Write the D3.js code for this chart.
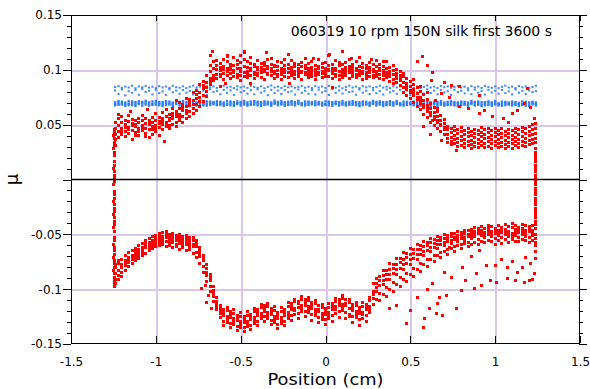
<!DOCTYPE html>
<html><head><meta charset="utf-8">
<script src="https://cdn.jsdelivr.net/npm/d3@7"></script>
<style>body{margin:0;background:#fff}svg{display:block}</style>
</head><body><svg id="c" width="590" height="389"></svg>
<script>
const titleText = "060319 10 rpm 150N silk first 3600 s";
const xLabelText = "Position (cm)";
const yLabelText = "μ";
const xTicks = [-1.5,-1,-0.5,0,0.5,1,1.5];
const xTickLabels = ["-1.5","-1","-0.5","0","0.5","1","1.5"];
const yTicks = [-0.15,-0.1,-0.05,0,0.05,0.1,0.15];
const yTickLabels = ["-0.15","-0.1","-0.05","","0.05","0.1","0.15"];

// Red series: forward stroke (positive friction), columns [x, mu values...]
const upperBranch = [
[-1.24,.0312,.0408,.0465,.0521,.0367],[-1.22,.0434,.0489,.0552,.0381,.0597],[-1.20,.0463,.0518,.0414,.0571,.0442],
[-1.18,.0441,.0497,.0539,.0392,.0476],[-1.16,.0472,.0527,.0423,.0581,.0455],[-1.14,.0451,.0508,.0364,.0548,.0489],
[-1.12,.0483,.0431,.0534,.0497,.0402],[-1.10,.0462,.0516,.0398,.0559,.0441],[-1.08,.0491,.0443,.0537,.0587,.0468],
[-1.06,.0468,.0513,.0421,.0552,.0394],[-1.04,.0497,.0452,.0541,.0383,.0518],[-1.02,.0459,.0521,.0568,.0412,.0487],
[-1.00,.0492,.0538,.0437,.0603,.0465],[-0.98,.0509,.0471,.0561,.0402,.0533],[-0.96,.0498,.0552,.0458,.0612,.0526],
[-0.94,.0521,.0479,.0573,.0638,.0497],[-0.92,.0537,.0496,.0589,.0469,.0554],[-0.90,.0552,.0603,.0501,.0648,.0577],
[-0.88,.0571,.0524,.0619,.0482,.0597],[-0.86,.0589,.0541,.0647,.0698,.0562],[-0.84,.0626,.0571,.0683,.0524,.0652],
[-0.82,.0604,.0668,.0559,.0737,.0631],[-0.80,.0672,.0617,.0728,.0574,.0701],[-0.78,.0648,.0719,.0603,.0792,.0681],
[-0.76,.0743,.0681,.0812,.0626,.0774],[-0.74,.0714,.0792,.0667,.0868,.0752],[-0.72,.0829,.0763,.0897,.0711,.0861],
[-0.70,.0801,.0883,.0842,.0947,.0758],[-0.68,.0921,.0867,.0981,.1036,.0896],[-0.66,.0951,.0907,.1012,.1076,.0928],
[-0.64,.0962,.1041,.0918,.1003,.1087],[-0.62,.0994,.0935,.1062,.1019,.0957],[-0.60,.1028,.0971,.0912,.1095,.0999],
[-0.58,.0946,.1013,.1074,.0987,.1132],[-0.56,.1006,.0923,.1051,.0968,.1024],[-0.54,.0979,.1037,.0941,.1109,.0996],
[-0.52,.1015,.0958,.1083,.0929,.1047],[-0.50,.0988,.1066,.0951,.1012,.0907],[-0.48,.1034,.0973,.1098,.0939,.1161],
[-0.46,.0959,.1021,.0984,.1073,.0927],[-0.44,.1009,.0944,.1058,.0991,.1115],[-0.42,.0976,.1046,.0919,.1027,.0962],
[-0.40,.1022,.0965,.1089,.0948,.1004],[-0.38,.0993,.1059,.0932,.1017,.0975],[-0.36,.1041,.0981,.0916,.1068,.1002],
[-0.34,.0967,.1029,.1093,.0954,.1011],[-0.32,.1013,.0948,.1052,.0986,.1104],[-0.30,.0985,.1044,.0925,.1031,.0969],
[-0.28,.1027,.0961,.1079,.0937,.0998],[-0.26,.0954,.1008,.1064,.0982,.0913],[-0.24,.1003,.0942,.1036,.1097,.0972],
[-0.22,.0978,.1051,.0929,.1014,.1138],[-0.20,.1019,.0963,.1085,.0946,.0995],[-0.18,.0961,.1032,.0987,.1062,.0921],
[-0.16,.0997,.0939,.1048,.1009,.0968],[-0.14,.0972,.1026,.0911,.1071,.0985],[-0.12,.1012,.0953,.1039,.0976,.1099],
[-0.10,.0983,.1057,.0934,.1008,.0961],[-0.08,.0965,.1018,.1076,.0942,.0994],[-0.06,.1004,.0948,.1043,.0979,.0916],
[-0.04,.0977,.1033,.0956,.1091,.1012],[-0.02,.1021,.0967,.0926,.1054,.0989],[0.00,.0958,.1011,.1068,.0936,.0983],
[0.02,.0996,.0943,.1037,.1005,.1127],[0.04,.0971,.1049,.0921,.0988,.1016],[0.06,.1014,.0959,.1082,.0937,.0995],
[0.08,.0981,.1036,.0947,.1063,.0912],[0.10,.0962,.1007,.0985,.1045,.0931],[0.12,.1001,.0952,.1069,.0976,.1023],
[0.14,.0974,.1029,.0918,.1002,.1094],[0.16,.1018,.0964,.1047,.0939,.0991],[0.18,.0957,.0998,.1072,.0927,.1015],
[0.20,.0993,.0945,.1034,.0979,.1108],[0.22,.0969,.1024,.0913,.1057,.0986],[0.24,.1008,.0951,.1041,.0972,.0924],
[0.26,.0979,.1019,.0938,.1066,.0995],[0.28,.0952,.1004,.1053,.0926,.0981],[0.30,.0986,.0937,.1027,.0964,.1089],
[0.32,.0961,.1012,.0919,.0993,.1046],[0.34,.0947,.0991,.1034,.0908,.0972],[0.36,.0973,.0926,.1015,.0951,.1078],
[0.38,.0935,.0982,.0897,.1023,.0958],[0.40,.0956,.0909,.0998,.0871,.1041],[0.42,.0918,.0964,.0883,.1007,.0942],
[0.44,.0902,.0947,.0861,.0989,.0925],[0.46,.0889,.0842,.0936,.0797,.0971],[0.48,.0824,.0873,.0918,.0768,.0851],
[0.50,.0846,.0791,.0892,.0739,.0812],[0.52,.0763,.0821,.0868,.0704,.0789],[0.54,.0781,.0726,.0837,.0668,.0752],
[0.56,.0694,.0752,.0803,.0637,.0718],[0.58,.0716,.0658,.0772,.0593,.0683],[0.60,.0621,.0679,.0731,.0562,.0648],
[0.62,.0644,.0587,.0692,.0524,.0611],[0.64,.0551,.0607,.0654,.0496,.0572],[0.66,.0573,.0519,.0618,.0462,.0538],
[0.68,.0489,.0541,.0583,.0437,.0506],[0.70,.0511,.0458,.0547,.0412,.0476],[0.72,.0412,.0371,.0453,.0338,.0487],
[0.74,.0385,.0427,.0349,.0468,.0316],[0.76,.0402,.0361,.0443,.0327,.0479],[0.78,.0374,.0418,.0336,.0456,.0298],
[0.80,.0396,.0352,.0437,.0313,.0471],[0.82,.0367,.0409,.0328,.0448,.0295],[0.84,.0388,.0346,.0429,.0307,.0466],
[0.86,.0359,.0401,.0322,.0442,.0284],[0.88,.0381,.0338,.0423,.0301,.0459],[0.90,.0364,.0407,.0326,.0447,.0289],
[0.92,.0392,.0349,.0433,.0311,.0474],[0.94,.0371,.0414,.0332,.0453,.0296],[0.96,.0385,.0343,.0426,.0305,.0462],
[0.98,.0362,.0404,.0324,.0445,.0287],[1.00,.0389,.0347,.0431,.0309,.0468],[1.02,.0368,.0411,.0329,.0451,.0292],
[1.04,.0383,.0341,.0424,.0303,.0463],[1.06,.0357,.0399,.0318,.0439,.0281],[1.08,.0379,.0336,.0421,.0298,.0457],
[1.10,.0363,.0405,.0325,.0446,.0286],[1.12,.0386,.0344,.0428,.0306,.0467],[1.14,.0369,.0412,.0331,.0452,.0293],
[1.16,.0391,.0348,.0434,.0312,.0473],[1.18,.0377,.0421,.0339,.0462,.0302],[1.20,.0398,.0355,.0441,.0319,.0486],
[1.22,.0409,.0366,.0452,.0327,.0498],[1.24,.0421,.0374,.0468,.0335,.0512]
];

// Red series: return stroke (negative friction), columns [x, mu values...]
const lowerBranch = [
[1.24,-.0443,-.0497,-.0538,-.0406,-.0571],[1.22,-.0462,-.0514,-.0421,-.0558,-.0489],[1.20,-.0431,-.0478,-.0529,-.0573,-.0452],
[1.18,-.0469,-.0418,-.0521,-.0556,-.0493],[1.16,-.0447,-.0502,-.0413,-.0549,-.0476],[1.14,-.0481,-.0434,-.0527,-.0568,-.0459],
[1.12,-.0458,-.0511,-.0424,-.0561,-.0487],[1.10,-.0439,-.0492,-.0543,-.0405,-.0518],[1.08,-.0473,-.0521,-.0431,-.0574,-.0496],
[1.06,-.0452,-.0498,-.0551,-.0414,-.0479],[1.04,-.0484,-.0436,-.0532,-.0581,-.0461],[1.02,-.0461,-.0513,-.0422,-.0559,-.0488],
[1.00,-.0492,-.0447,-.0541,-.0589,-.0468],[0.98,-.0471,-.0524,-.0433,-.0567,-.0499],[0.96,-.0449,-.0503,-.0554,-.0417,-.0478],
[0.94,-.0482,-.0531,-.0443,-.0579,-.0506],[0.92,-.0463,-.0512,-.0428,-.0561,-.0487],[0.90,-.0494,-.0446,-.0543,-.0592,-.0471],
[0.88,-.0474,-.0522,-.0435,-.0576,-.0498],[0.86,-.0487,-.0541,-.0512,-.0593,-.0458],[0.84,-.0521,-.0468,-.0574,-.0499,-.0612],
[0.82,-.0496,-.0553,-.0527,-.0461,-.0588],[0.80,-.0538,-.0482,-.0597,-.0511,-.0632],[0.78,-.0509,-.0566,-.0541,-.0478,-.0604],
[0.76,-.0551,-.0493,-.0614,-.0527,-.0658],[0.74,-.0521,-.0587,-.0553,-.0489,-.0629],[0.72,-.0569,-.0508,-.0636,-.0542,-.0681],
[0.70,-.0538,-.0603,-.0572,-.0501,-.0657],[0.68,-.0591,-.0527,-.0662,-.0558,-.0714],[0.66,-.0556,-.0628,-.0594,-.0519,-.0689],
[0.64,-.0617,-.0548,-.0693,-.0581,-.0752],[0.62,-.0579,-.0658,-.0621,-.0537,-.0731],[0.60,-.0648,-.0572,-.0729,-.0606,-.0794],
[0.58,-.0607,-.0693,-.0652,-.0563,-.0776],[0.56,-.0683,-.0601,-.0768,-.0637,-.0839],[0.54,-.0641,-.0731,-.0688,-.0592,-.0821],
[0.52,-.0722,-.0636,-.0809,-.0673,-.0884],[0.50,-.0681,-.0772,-.0729,-.0627,-.0867],[0.48,-.0764,-.0676,-.0853,-.0712,-.0931],
[0.46,-.0726,-.0817,-.0772,-.0668,-.0913],[0.44,-.0809,-.0721,-.0898,-.0756,-.0978],[0.42,-.0773,-.0864,-.0819,-.0716,-.0962],
[0.40,-.0857,-.0771,-.0943,-.0808,-.1021],[0.38,-.0823,-.0912,-.0868,-.0769,-.1007],[0.36,-.0908,-.0826,-.0989,-.0862,-.1063],
[0.34,-.0879,-.0962,-.0921,-.0831,-.1049],[0.32,-.0963,-.0889,-.1038,-.0921,-.1102],[0.30,-.0948,-.1024,-.0986,-.1091,-.0903],
[0.28,-.1018,-.0952,-.1089,-.1047,-.1143],[0.26,-.1156,-.1104,-.1209,-.1079,-.1181],[0.24,-.1187,-.1136,-.1241,-.1298,-.1162],
[0.22,-.1209,-.1158,-.1267,-.1124,-.1235],[0.20,-.1218,-.1167,-.1276,-.1329,-.1193],[0.18,-.1203,-.1149,-.1258,-.1121,-.1231],
[0.16,-.1191,-.1138,-.1247,-.1307,-.1164],[0.14,-.1172,-.1119,-.1228,-.1093,-.1251],[0.12,-.1153,-.1098,-.1209,-.1268,-.1127],
[0.10,-.1139,-.1084,-.1196,-.1059,-.1168],[0.08,-.1148,-.1096,-.1207,-.1261,-.1121],[0.06,-.1162,-.1109,-.1218,-.1083,-.1189],
[0.04,-.1187,-.1131,-.1243,-.1291,-.1158],[0.02,-.1216,-.1163,-.1269,-.1132,-.1241],[0.00,-.1229,-.1178,-.1281,-.1318,-.1203],
[-0.02,-.1221,-.1169,-.1273,-.1136,-.1248],[-0.04,-.1207,-.1152,-.1259,-.1302,-.1183],[-0.06,-.1189,-.1134,-.1243,-.1103,-.1216],
[-0.08,-.1176,-.1121,-.1231,-.1284,-.1148],[-0.10,-.1161,-.1104,-.1213,-.1072,-.1187],[-0.12,-.1149,-.1093,-.1202,-.1253,-.1121],
[-0.14,-.1152,-.1098,-.1207,-.1071,-.1179],[-0.16,-.1163,-.1108,-.1219,-.1268,-.1134],[-0.18,-.1172,-.1117,-.1228,-.1091,-.1199],
[-0.20,-.1184,-.1129,-.1239,-.1287,-.1156],[-0.22,-.1212,-.1154,-.1268,-.1123,-.1241],[-0.24,-.1238,-.1181,-.1292,-.1331,-.1209],
[-0.26,-.1257,-.1202,-.1311,-.1169,-.1284],[-0.28,-.1268,-.1213,-.1321,-.1359,-.1241],[-0.30,-.1251,-.1194,-.1303,-.1161,-.1278],
[-0.32,-.1229,-.1173,-.1284,-.1322,-.1201],[-0.34,-.1212,-.1158,-.1263,-.1131,-.1239],[-0.36,-.1201,-.1149,-.1252,-.1298,-.1173],
[-0.38,-.1219,-.1167,-.1271,-.1141,-.1246],[-0.40,-.1243,-.1189,-.1294,-.1331,-.1216],[-0.42,-.1262,-.1208,-.1313,-.1178,-.1289],
[-0.44,-.1281,-.1227,-.1332,-.1369,-.1254],[-0.46,-.1293,-.1239,-.1344,-.1203,-.1318],[-0.48,-.1301,-.1248,-.1352,-.1389,-.1273],
[-0.50,-.1298,-.1246,-.1349,-.1212,-.1322],[-0.52,-.1289,-.1236,-.1341,-.1378,-.1261],[-0.54,-.1272,-.1219,-.1323,-.1188,-.1299],
[-0.56,-.1261,-.1208,-.1312,-.1351,-.1234],[-0.58,-.1248,-.1194,-.1301,-.1167,-.1276],[-0.60,-.1239,-.1186,-.1292,-.1333,-.1212],
[-0.62,-.1172,-.1224,-.1198,-.1257,-.1146],[-0.64,-.1108,-.1156,-.1079,-.1184,-.1131],[-0.66,-.1012,-.1071,-.1043,-.0978,-.1117],
[-0.68,-.0918,-.0867,-.0974,-.0896,-.1019],[-0.70,-.0812,-.0879,-.0846,-.0931,-.0778],[-0.72,-.0738,-.0691,-.0795,-.0716,-.0847],
[-0.74,-.0649,-.0703,-.0678,-.0762,-.0618],[-0.76,-.0608,-.0552,-.0667,-.0583,-.0714],[-0.78,-.0557,-.0612,-.0589,-.0671,-.0531],
[-0.80,-.0581,-.0529,-.0637,-.0556,-.0609],[-0.82,-.0539,-.0594,-.0567,-.0648,-.0512],[-0.84,-.0568,-.0516,-.0621,-.0543,-.0596],
[-0.86,-.0528,-.0583,-.0554,-.0637,-.0501],[-0.88,-.0556,-.0507,-.0611,-.0532,-.0589],[-0.90,-.0519,-.0572,-.0543,-.0624,-.0491],
[-0.92,-.0547,-.0498,-.0603,-.0524,-.0578],[-0.94,-.0503,-.0561,-.0529,-.0614,-.0476],[-0.96,-.0538,-.0484,-.0589,-.0517,-.0562],
[-0.98,-.0492,-.0547,-.0521,-.0603,-.0571],[-1.00,-.0561,-.0509,-.0612,-.0534,-.0587],[-1.02,-.0517,-.0583,-.0552,-.0628,-.0601],
[-1.04,-.0598,-.0536,-.0647,-.0571,-.0619],[-1.06,-.0559,-.0623,-.0587,-.0671,-.0604],[-1.08,-.0642,-.0581,-.0693,-.0617,-.0668],
[-1.10,-.0604,-.0662,-.0718,-.0637,-.0689],[-1.12,-.0683,-.0627,-.0741,-.0659,-.0712],[-1.14,-.0651,-.0725,-.0689,-.0768,-.0708],
[-1.16,-.0733,-.0668,-.0792,-.0714,-.0756],[-1.18,-.0697,-.0784,-.0742,-.0829,-.0761],[-1.20,-.0803,-.0729,-.0851,-.0776,-.0883],
[-1.22,-.0768,-.0874,-.0826,-.0912,-.0741],[-1.24,-.0912,-.0803,-.0857,-.0951,-.0779]
];

// Red: isolated points [x, mu]
const upperScatter = [[-0.668,.117],[-0.58,.112],[-0.48,.117],[-0.22,.114],[0.026,.114],[0.155,.110],[0.27,.109],[0.34,.108],
[-0.68,.113],[-0.5,.113],[-0.07,.110],[-0.44,.0875],[-0.59,.0875],[-0.21,.0875],[0.04,.084],[0.54,.108],[0.57,.112],[0.6,.104],
[0.63,.098],[0.626,.090],[0.703,.088],[0.745,.086],[0.79,.085],[0.91,.077],[0.79,.067],[0.84,.065],[0.91,.060],[0.94,.063],
[0.985,.057],[1.05,.056],[1.1,.060],[1.13,.063],[1.19,.083],[1.21,.066],[1.23,.056],[1.17,.069],[1.08,.052],[0.73,.075],
[0.686,.078],[0.66,.065],[0.63,.054],[0.686,.036],[0.77,.026],[0.52,.091],[0.56,.085],[0.6,.079],[0.65,.072],[0.58,.048],
[0.62,.041],[-0.62,.085],[-0.35,.116],[0.1,.117],[-0.88,.072],[-0.95,.035],[-1.05,.064],[-1.15,.062]];
const lowerScatter = [[0.54,-.108],[0.585,-.127],[0.50,-.119],[0.615,-.118],[0.655,-.122],[0.69,-.124],[0.673,-.108],[0.713,-.106],
[0.77,-.118],[0.80,-.101],[0.88,-.099],[0.92,-.097],[0.97,-.092],[1.01,-.094],[1.07,-.090],[1.12,-.092],[1.17,-.094],[1.20,-.092],
[1.22,-.091],[0.825,-.092],[0.74,-.089],[0.81,-.080],[0.89,-.086],[0.95,-.078],[1.0,-.078],[1.04,-.073],[1.07,-.080],[1.10,-.075],
[1.13,-.085],[1.16,-.080],[1.18,-.071],[1.21,-.077],[1.23,-.086],[0.73,-.062],[0.48,-.131],[0.575,-.135],[0.66,-.113],[0.91,-.065],
[0.86,-.070],[0.63,-.095],[0.6,-.100],[0.7,-.085],[-0.73,-.099],[-0.71,-.097],[-0.69,-.106],[-0.67,-.118],[-0.7,-.112],[0.42,-.115],[0.38,-.118]];
// Red: reversal edges [x, mu]
const leftEdge = [[-1.246,.046],[-1.245,.043],[-1.247,.040],[-1.246,.037],[-1.245,.034],[-1.246,.031],[-1.247,.028],[-1.245,.025],
[-1.246,.022],[-1.246,.016],[-1.245,.013],[-1.247,.010],[-1.246,.007],[-1.245,.004],[-1.246,.001],[-1.246,-.002],[-1.247,-.005],
[-1.245,-.011],[-1.246,-.014],[-1.245,-.017],[-1.247,-.020],[-1.246,-.023],[-1.245,-.026],[-1.246,-.029],[-1.247,-.032],[-1.246,-.035],
[-1.245,-.038],[-1.246,-.041],[-1.247,-.044],[-1.246,-.047],[-1.245,-.053],[-1.246,-.056],[-1.247,-.059],[-1.246,-.062],[-1.245,-.065],
[-1.246,-.068],[-1.247,-.071],[-1.246,-.074],[-1.245,-.077],[-1.246,-.080],[-1.247,-.083],[-1.246,-.086],[-1.245,-.089],[-1.246,-.092],
[-1.244,-.095],[-1.243,-.098]];
const rightEdge = [[1.238,.028],[1.239,.025],[1.237,.022],[1.238,.019],[1.239,.016],[1.238,.013],[1.237,.010],[1.238,.007],[1.239,.004],
[1.238,.001],[1.237,-.002],[1.238,-.005],[1.239,-.008],[1.238,-.011],[1.237,-.014],[1.238,-.017],[1.239,-.020],[1.238,-.023],[1.237,-.026],
[1.238,-.029],[1.239,-.032],[1.238,-.035],[1.237,-.038],[1.238,-.041],[1.236,-.060],[1.237,-.066],[1.235,-.072]];

// Blue series: dense band and sparse band, columns [x, mu values...]
const blueDense = [
[-1.24,.0688,.0703,.0676],[-1.22,.0697,.0681,.0714],[-1.20,.0684,.0709,.0693],[-1.18,.0701,.0672,.0689],[-1.16,.0692,.0715,.0679],
[-1.14,.0678,.0698,.0711],[-1.12,.0705,.0686,.0671],[-1.10,.0689,.0712,.0699],[-1.08,.0674,.0694,.0708],[-1.06,.0699,.0683,.0717],
[-1.04,.0686,.0704,.0673],[-1.02,.0711,.0691,.0680],[-1.00,.0682,.0700,.0716],[-0.98,.0695,.0677,.0707],[-0.96,.0706,.0688,.0670],
[-0.94,.0679,.0697,.0713],[-0.92,.0693,.0710,.0684],[-0.90,.0687,.0672,.0702],[-0.88,.0703,.0690,.0719],[-0.86,.0676,.0696,.0709],
[-0.84,.0698,.0683,.0714],[-0.82,.0685,.0707,.0671],[-0.80,.0709,.0692,.0678],[-0.78,.0681,.0701,.0715],[-0.76,.0694,.0675,.0706],
[-0.74,.0704,.0689,.0718],[-0.72,.0677,.0698,.0685],[-0.70,.0691,.0712,.0674],[-0.68,.0700,.0682,.0710],[-0.66,.0686,.0705,.0695],
[-0.64,.0696,.0679,.0713],[-0.62,.0683,.0708,.0691],[-0.60,.0702,.0673,.0688],[-0.58,.0690,.0714,.0680],[-0.56,.0677,.0697,.0710],
[-0.54,.0706,.0687,.0672],[-0.52,.0688,.0711,.0698],[-0.50,.0675,.0693,.0707],[-0.48,.0698,.0684,.0716],[-0.46,.0687,.0703,.0674],
[-0.44,.0710,.0690,.0681],[-0.42,.0683,.0701,.0715],[-0.40,.0694,.0676,.0708],[-0.38,.0705,.0687,.0671],[-0.36,.0680,.0698,.0712],
[-0.34,.0692,.0709,.0685],[-0.32,.0688,.0673,.0703],[-0.30,.0702,.0691,.0718],[-0.28,.0677,.0695,.0708],[-0.26,.0697,.0684,.0713],
[-0.24,.0686,.0706,.0672],[-0.22,.0708,.0693,.0679],[-0.20,.0682,.0700,.0714],[-0.18,.0693,.0676,.0705],[-0.16,.0703,.0689,.0717],
[-0.14,.0678,.0697,.0686],[-0.12,.0690,.0711,.0675],[-0.10,.0699,.0681,.0709],[-0.08,.0685,.0704,.0694],[-0.06,.0695,.0678,.0712],
[-0.04,.0684,.0707,.0690],[-0.02,.0701,.0674,.0687],[0.00,.0689,.0713,.0681],[0.02,.0676,.0696,.0709],[0.04,.0705,.0686,.0673],
[0.06,.0687,.0710,.0697],[0.08,.0674,.0692,.0706],[0.10,.0697,.0683,.0715],[0.12,.0686,.0702,.0675],[0.14,.0709,.0689,.0680],
[0.16,.0682,.0700,.0714],[0.18,.0693,.0677,.0707],[0.20,.0704,.0688,.0670],[0.22,.0679,.0697,.0711],[0.24,.0691,.0708,.0684],
[0.26,.0687,.0672,.0702],[0.28,.0701,.0690,.0717],[0.30,.0676,.0694,.0707],[0.32,.0696,.0683,.0712],[0.34,.0685,.0705,.0671],
[0.36,.0707,.0692,.0678],[0.38,.0681,.0699,.0713],[0.40,.0692,.0675,.0704],[0.42,.0702,.0688,.0716],[0.44,.0677,.0696,.0685],
[0.46,.0689,.0710,.0674],[0.48,.0698,.0680,.0708],[0.50,.0684,.0703,.0693],[0.52,.0694,.0677,.0711],[0.54,.0683,.0706,.0689],
[0.56,.0700,.0673,.0686],[0.58,.0688,.0712,.0680],[0.60,.0675,.0695,.0708],[0.62,.0704,.0685,.0672],[0.64,.0686,.0709,.0696],
[0.66,.0673,.0691,.0705],[0.68,.0696,.0682,.0714],[0.70,.0685,.0701,.0674],[0.72,.0708,.0688,.0679],[0.74,.0681,.0699,.0713],
[0.76,.0692,.0676,.0706],[0.78,.0703,.0687,.0669],[0.80,.0678,.0696,.0710],[0.82,.0690,.0707,.0683],[0.84,.0686,.0671,.0701],
[0.86,.0700,.0689,.0716],[0.88,.0675,.0693,.0706],[0.90,.0695,.0682,.0711],[0.92,.0684,.0704,.0670],[0.94,.0706,.0691,.0677],
[0.96,.0680,.0698,.0712],[0.98,.0691,.0674,.0703],[1.00,.0701,.0686,.0715],[1.02,.0676,.0695,.0684],[1.04,.0688,.0709,.0673],
[1.06,.0697,.0679,.0707],[1.08,.0683,.0702,.0692],[1.10,.0693,.0676,.0710],[1.12,.0682,.0705,.0688],[1.14,.0699,.0672,.0685],
[1.16,.0687,.0711,.0679],[1.18,.0674,.0694,.0707],[1.20,.0703,.0684,.0671],[1.22,.0685,.0708,.0695],[1.24,.0690,.0676,.0702]
];
const blueSparse = [
[-1.24,.0843,.0812],[-1.22,.0851,.0779],[-1.20,.0836,.0821],[-1.18,.0847,.0768],[-1.16,.0839,.0805],[-1.14,.0855,.0791],
[-1.12,.0832,.0815],[-1.10,.0849,.0773],[-1.08,.0841,.0824],[-1.06,.0853,.0798],[-1.04,.0838,.0809],[-1.02,.0846,.0776],
[-1.00,.0834,.0818],[-0.98,.0852,.0787],[-0.96,.0840,.0803],[-0.94,.0848,.0771],[-0.92,.0835,.0822],[-0.90,.0854,.0795],
[-0.88,.0842,.0811],[-0.86,.0837,.0781],[-0.84,.0850,.0816],[-0.82,.0833,.0792],[-0.80,.0845,.0807],[-0.78,.0856,.0775],
[-0.76,.0839,.0819],[-0.74,.0847,.0786],[-0.72,.0834,.0810],[-0.70,.0852,.0770],[-0.68,.0841,.0823],[-0.66,.0849,.0799],
[-0.64,.0836,.0806],[-0.62,.0844,.0778],[-0.60,.0855,.0817],[-0.58,.0838,.0790],[-0.56,.0846,.0813],[-0.54,.0833,.0772],
[-0.52,.0851,.0820],[-0.50,.0840,.0796],[-0.48,.0848,.0808],[-0.46,.0835,.0783],[-0.44,.0853,.0814],[-0.42,.0842,.0777],
[-0.40,.0837,.0822],[-0.38,.0850,.0793],[-0.36,.0832,.0805],[-0.34,.0845,.0769],[-0.32,.0857,.0818],[-0.30,.0839,.0788],
[-0.28,.0847,.0811],[-0.26,.0834,.0780],[-0.24,.0852,.0816],[-0.22,.0841,.0797],[-0.20,.0849,.0804],[-0.18,.0836,.0774],
[-0.16,.0844,.0821],[-0.14,.0854,.0791],[-0.12,.0838,.0809],[-0.10,.0846,.0782],[-0.08,.0833,.0815],[-0.06,.0851,.0776],
[-0.04,.0840,.0819],[-0.02,.0848,.0794],[0.00,.0835,.0807],[0.02,.0853,.0771],[0.04,.0842,.0823],[0.06,.0837,.0789],
[0.08,.0850,.0812],[0.10,.0832,.0784],[0.12,.0845,.0817],[0.14,.0856,.0798],[0.16,.0839,.0803],[0.18,.0847,.0773],
[0.20,.0834,.0820],[0.22,.0852,.0792],[0.24,.0841,.0810],[0.26,.0849,.0779],[0.28,.0836,.0814],[0.30,.0844,.0787],
[0.32,.0855,.0806],[0.34,.0838,.0775],[0.36,.0846,.0821],[0.38,.0833,.0795],[0.40,.0851,.0808],[0.42,.0840,.0781],
[0.44,.0848,.0816],[0.46,.0835,.0790],[0.48,.0853,.0813],[0.50,.0842,.0770],[0.52,.0837,.0818],[0.54,.0850,.0796],
[0.56,.0832,.0805],[0.58,.0845,.0783],[0.60,.0857,.0822],[0.62,.0839,.0789],[0.64,.0847,.0811],[0.66,.0834,.0777],
[0.68,.0852,.0815],[0.70,.0841,.0793],[0.72,.0849,.0806],[0.74,.0836,.0772],[0.76,.0844,.0819],[0.78,.0854,.0797],
[0.80,.0838,.0809],[0.82,.0846,.0785],[0.84,.0833,.0814],[0.86,.0851,.0778],[0.88,.0840,.0820],[0.90,.0848,.0791],
[0.92,.0835,.0807],[0.94,.0853,.0774],[0.96,.0842,.0817],[0.98,.0837,.0794],[1.00,.0850,.0810],[1.02,.0832,.0782],
[1.04,.0845,.0816],[1.06,.0856,.0788],[1.08,.0839,.0804],[1.10,.0847,.0776],[1.12,.0834,.0821],[1.14,.0852,.0792],
[1.16,.0841,.0808],[1.18,.0849,.0780],[1.20,.0836,.0813],[1.22,.0844,.0798],[1.24,.0855,.0806]
];

const FONT = "DejaVu Sans";
const svg = d3.select("#c");
const x = d3.scaleLinear().domain([-1.5, 1.5]).range([71, 580]);
const y = d3.scaleLinear().domain([-0.15, 0.15]).range([344, 15]);
const gridColor = "#d9c6ec";

// grid
const grid = svg.append("g").attr("shape-rendering", "crispEdges");
grid.selectAll("line.v").data(xTicks.filter(v => v > -1.5 && v < 1.5)).join("line").attr("class", "v")
  .attr("x1", d => Math.round(x(d)) + 0.5).attr("x2", d => Math.round(x(d)) + 0.5)
  .attr("y1", y(0.15)).attr("y2", y(-0.15)).attr("stroke", gridColor).attr("stroke-width", 2);
grid.selectAll("line.h").data(yTicks.filter(v => v > -0.15 && v < 0.15 && v !== 0)).join("line").attr("class", "h")
  .attr("y1", d => Math.round(y(d)) + 0.5).attr("y2", d => Math.round(y(d)) + 0.5)
  .attr("x1", x(-1.5)).attr("x2", x(1.5)).attr("stroke", gridColor).attr("stroke-width", 2);

function flatten(cols) {
  const out = [];
  cols.forEach(c => { for (let i = 1; i < c.length; i++) out.push([c[0], c[i]]); });
  return out;
}

// blue
const blueG = svg.append("g").attr("fill", "#2f7df6");
blueG.selectAll("rect.d").data(flatten(blueDense)).join("rect").attr("class", "d")
  .attr("x", d => x(d[0]) - 1.2).attr("y", d => y(d[1]) - 1.2).attr("width", 2.4).attr("height", 2.4);
blueG.selectAll("rect.s").data(flatten(blueSparse)).join("rect").attr("class", "s")
  .attr("x", d => x(d[0]) - 1.1).attr("y", d => y(d[1]) - 1).attr("width", 2.2).attr("height", 2).attr("opacity", 0.9);

// red
const redPts = flatten(upperBranch).concat(flatten(lowerBranch), upperScatter, lowerScatter, leftEdge, rightEdge);
svg.append("g").attr("fill", "#ff0000").attr("shape-rendering", "crispEdges")
  .selectAll("rect").data(redPts).join("rect")
  .attr("x", d => Math.round(x(d[0]) - 1.5)).attr("y", d => Math.round(y(d[1]) - 1.5)).attr("width", 3).attr("height", 3);

// zero line
svg.append("line").attr("x1", x(-1.5)).attr("x2", x(1.5)).attr("y1", y(0)).attr("y2", y(0))
  .attr("stroke", "#000").attr("stroke-width", 1.5);

function styleAxis(g) {
  g.select(".domain").remove();
  g.attr("font-family", FONT).attr("font-size", 12);
  g.selectAll("line").attr("stroke", "#000").attr("shape-rendering", "crispEdges");
  g.selectAll("text").attr("fill", "#000");
}
// left axis
svg.append("g").attr("transform", `translate(${x(-1.5)},0)`)
  .call(d3.axisLeft(y).tickValues(yTicks).tickFormat(d => yTickLabels[yTicks.indexOf(d)]).tickSize(8).tickPadding(1).tickSizeOuter(0)).call(styleAxis);
svg.append("g").attr("transform", `translate(${x(-1.5)},0)`)
  .call(d3.axisLeft(y).ticks(30).tickFormat("").tickSize(4).tickSizeOuter(0)).call(styleAxis);
// right axis
svg.append("g").attr("transform", `translate(${x(1.5) - 1},0)`)
  .call(d3.axisRight(y).tickValues(yTicks).tickFormat("").tickSize(8).tickSizeOuter(0)).call(styleAxis);
svg.append("g").attr("transform", `translate(${x(1.5) - 1},0)`)
  .call(d3.axisRight(y).ticks(30).tickFormat("").tickSize(4).tickSizeOuter(0)).call(styleAxis);
// top axis
svg.append("g").attr("transform", `translate(0,${y(0.15)})`)
  .call(d3.axisTop(x).tickValues(xTicks).tickFormat("").tickSize(-6).tickSizeOuter(0)).call(styleAxis);
// bottom axis
svg.append("g").attr("transform", `translate(0,${y(-0.15) - 1})`)
  .call(d3.axisBottom(x).tickValues(xTicks).tickFormat(d => xTickLabels[xTicks.indexOf(d)]).tickSize(-7).tickPadding(14).tickSizeOuter(0)).call(styleAxis);

// frame
svg.append("rect").attr("x", x(-1.5) + 0.5).attr("y", y(0.15) + 0.5)
  .attr("width", x(1.5) - x(-1.5) - 1).attr("height", y(-0.15) - y(0.15) - 1)
  .attr("fill", "none").attr("stroke", "#000").attr("shape-rendering", "crispEdges");

// texts
svg.append("text").attr("x", 552).attr("y", 36).attr("text-anchor", "end")
  .attr("font-family", FONT).attr("font-size", 14).text(titleText);
svg.append("text").attr("x", x(0)).attr("y", 385).attr("text-anchor", "middle")
  .attr("font-family", FONT).attr("font-size", 16)
  .attr("textLength", 116).attr("lengthAdjust", "spacingAndGlyphs").text(xLabelText);
svg.append("text").attr("transform", `translate(18,${y(0)}) rotate(-90)`).attr("text-anchor", "middle")
  .attr("font-family", FONT).attr("font-size", 18).text(yLabelText);
</script>
</body></html>
